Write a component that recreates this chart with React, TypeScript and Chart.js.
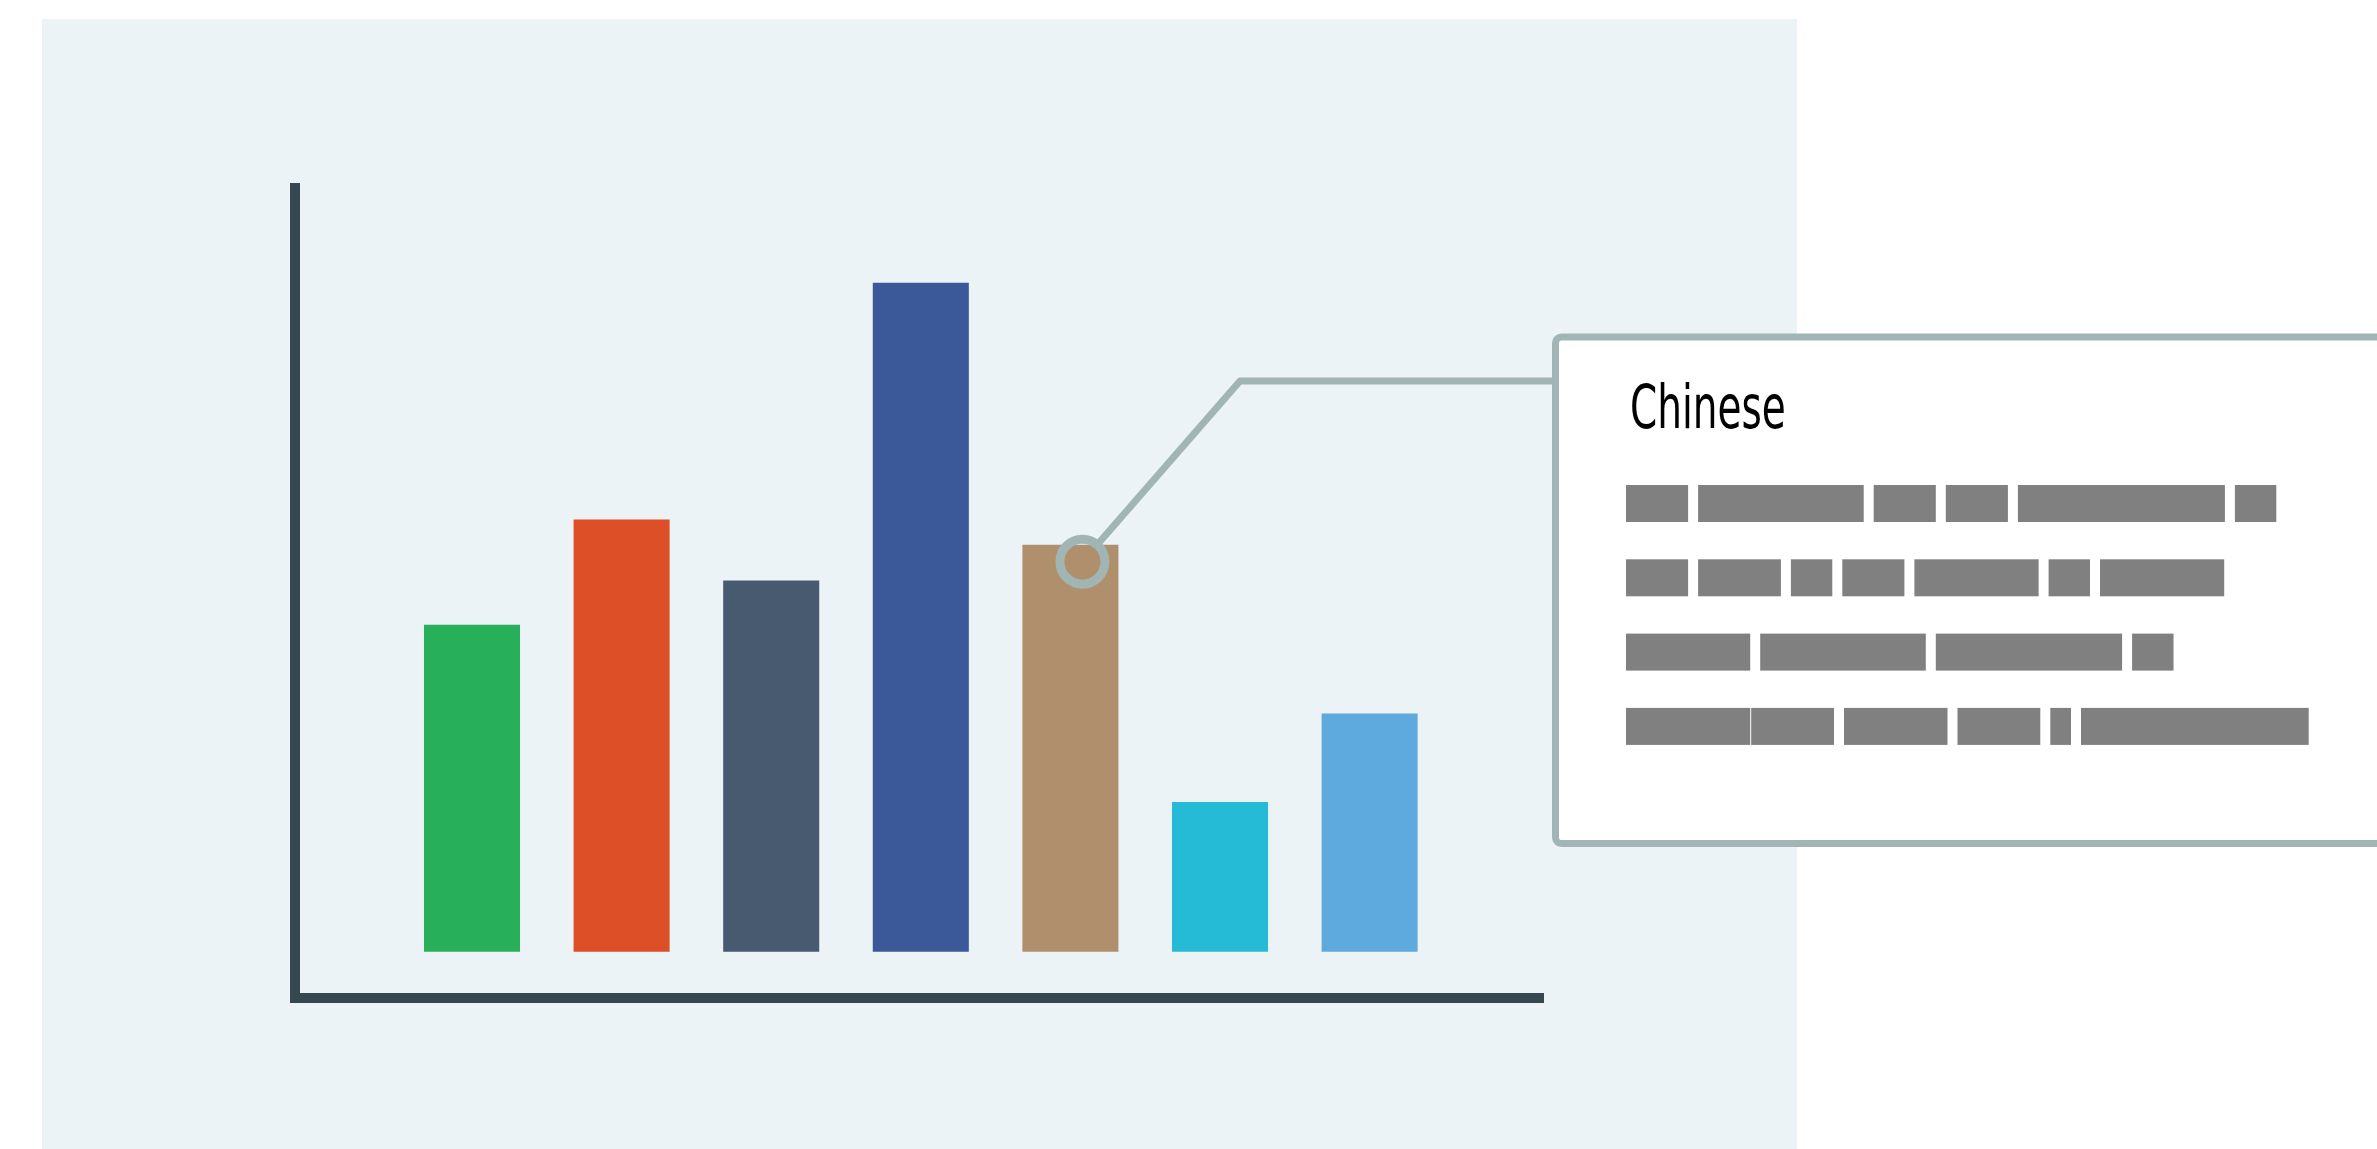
import React, { useEffect, useRef } from "react";
import { Chart, registerables } from "chart.js";

Chart.register(...registerables);

// ---- data ----
const categories = ["1", "2", "3", "4", "5", "6", "7"];
const values = [42.8, 56.6, 48.6, 87.6, 53.3, 19.6, 31.2];
const barColors = ["#27AF5A", "#DD4F26", "#475A70", "#3B5998", "#B0906C", "#25BBD6", "#5EAADE"];
const highlightIndex = 4;
const calloutTitle = "Chinese";
// redacted words in the callout, as character counts per line
const redactedRows = [
  [3, 8, 3, 3, 10, 2],
  [3, 4, 2, 3, 6, 2, 6],
  [6, 8, 9, 2],
  [6, 4, 5, 4, 1, 11],
];
// pairs [row, word] that follow the previous word without a space
const joinedWords = [[3, 1]];

const W = 2377;
const H = 1149;
const PANEL = "#EBF3F6";
const AXIS = "#37474F";
const LINK = "#A1B5B4";

const decor = {
  id: "decor",
  beforeDraw(chart: any) {
    const ctx = chart.ctx;
    ctx.save();
    ctx.fillStyle = "#FFFFFF";
    ctx.fillRect(0, 0, W, H);
    ctx.fillStyle = PANEL;
    ctx.fillRect(42, 19, 1755, H - 19);
    ctx.restore();
  },
  afterDraw(chart: any) {
    const ctx = chart.ctx;
    const el = chart.getDatasetMeta(0).data[highlightIndex];
    if (!el) return;
    const cx = el.x + 12;
    const cy = el.y + 17;
    const r = 22.5;
    const elbowX = 1240;
    const elbowY = 381;
    const boxL = 1555.5;
    const boxT = 337;
    const boxB = 843.5;

    ctx.save();
    // connector line
    const dx = elbowX - cx;
    const dy = elbowY - cy;
    const d = Math.hypot(dx, dy);
    ctx.strokeStyle = LINK;
    ctx.lineWidth = 7;
    ctx.lineJoin = "round";
    ctx.beginPath();
    ctx.moveTo(cx + (dx / d) * r, cy + (dy / d) * r);
    ctx.lineTo(elbowX, elbowY);
    ctx.lineTo(boxL, elbowY);
    ctx.stroke();
    // ring
    ctx.lineWidth = 9;
    ctx.beginPath();
    ctx.arc(cx, cy, r, 0, Math.PI * 2);
    ctx.stroke();

    // callout box
    ctx.fillStyle = "#FFFFFF";
    ctx.lineWidth = 7;
    ctx.beginPath();
    (ctx as any).roundRect(boxL, boxT, W + 40 - boxL, boxB - boxT, 6);
    ctx.fill();
    ctx.stroke();

    // title
    ctx.fillStyle = "#000000";
    ctx.font = "60px 'DejaVu Sans'";
    ctx.textBaseline = "alphabetic";
    ctx.save();
    ctx.translate(1630, 428);
    ctx.scale(0.65, 1);
    ctx.fillText(calloutTitle, 0, 0);
    ctx.restore();

    // redacted text
    const unit = 20.7;
    const gap = 10;
    ctx.fillStyle = "#808080";
    redactedRows.forEach((row, ri) => {
      let x = 1626;
      const y = 485 + ri * 74.3;
      row.forEach((n, wi) => {
        if (wi > 0) {
          const joined = joinedWords.some(([jr, jw]) => jr === ri && jw === wi);
          x += joined ? 1 : gap;
        }
        const w = n * unit;
        ctx.fillRect(x, y, w, 37);
        x += w;
      });
    });
    ctx.restore();
  },
};

export default function App() {
  const ref = useRef<HTMLCanvasElement>(null);
  useEffect(() => {
    if (!ref.current) return;
    const chart = new Chart(ref.current, {
      type: "bar",
      data: {
        labels: categories,
        datasets: [
          {
            data: values.map((v, i) => ({ x: i, y: v })),
            backgroundColor: barColors,
            borderWidth: 0,
            categoryPercentage: 1,
            barPercentage: 0.642,
          },
        ],
      },
      options: {
        animation: false,
        responsive: false,
        devicePixelRatio: 1,
        layout: { padding: { left: 295, top: 188, right: W - 1543.5, bottom: H - 997.5 } },
        plugins: { legend: { display: false }, tooltip: { enabled: false } },
        scales: {
          x: {
            type: "linear",
            min: -1.1832,
            max: 7.1624,
            offset: false,
            ticks: { display: false },
            grid: { display: false, drawTicks: false, tickLength: 0 },
            border: { display: true, width: 10, color: AXIS },
          },
          y: {
            min: -6,
            max: 100,
            ticks: { display: false },
            grid: { display: false, drawTicks: false, tickLength: 0 },
            border: { display: true, width: 10, color: AXIS },
          },
        },
      },
      plugins: [decor],
    });
    return () => chart.destroy();
  }, []);
  return (
    <div style={{ position: "absolute", left: 0, top: 0, width: W, height: H }}>
      <canvas ref={ref} width={W} height={H} style={{ display: "block", width: W, height: H }} />
    </div>
  );
}
